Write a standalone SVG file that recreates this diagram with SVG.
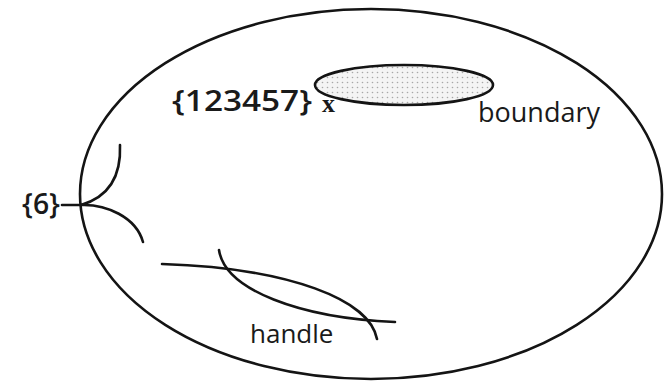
<svg xmlns="http://www.w3.org/2000/svg" width="664" height="383" viewBox="0 0 664 383">
<defs>
<pattern id="dots" width="5" height="5" patternUnits="userSpaceOnUse">
<rect width="5" height="5" fill="#f4f4f4"/>
<circle cx="2.5" cy="2.5" r="0.8" fill="#a8a8a8"/>
</pattern>
</defs>
<style>
.ln{fill:none;stroke:#141414;stroke-width:2.6;stroke-linecap:round}
.lbl{font-family:"Open Sans","DejaVu Sans",sans-serif;fill:#1a1a1a}
.set{font-family:"Open Sans","DejaVu Sans",sans-serif;font-weight:600;fill:#1a1a1a}
</style>
<g id="surface">
<ellipse class="ln" cx="371" cy="194" rx="291" ry="185"/>
</g>
<g id="boundary">
<ellipse cx="404" cy="85" rx="89" ry="20" fill="url(#dots)" stroke="#141414" stroke-width="2.6"/>
<text class="lbl" x="478" y="122" font-size="27">boundary</text>
</g>
<g id="set123457">
<text class="set" x="172" y="111" font-size="29" textLength="140" lengthAdjust="spacingAndGlyphs">{123457}</text>
<text x="322" y="112" font-family="'Liberation Serif',serif" font-weight="bold" font-size="26" fill="#1a1a1a">x</text>
</g>
<g id="set6">
<text class="set" x="22" y="214" font-size="29" textLength="38" lengthAdjust="spacingAndGlyphs">{6}</text>
</g>
<g id="handle">
<text class="lbl" x="250" y="343" font-size="26">handle</text>
</g>
<g id="connectors">
<path class="ln" d="M62,205 L81,205"/>
<path class="ln" d="M81,205 Q122,193 120,145"/>
<path class="ln" d="M81,205 C106,204 136,217 143,242"/>
<path class="ln" d="M162,264 C290,268 370,300 377,339"/>
<path class="ln" d="M219,250 C225,290 300,318 395,322"/>
</g>
</svg>
